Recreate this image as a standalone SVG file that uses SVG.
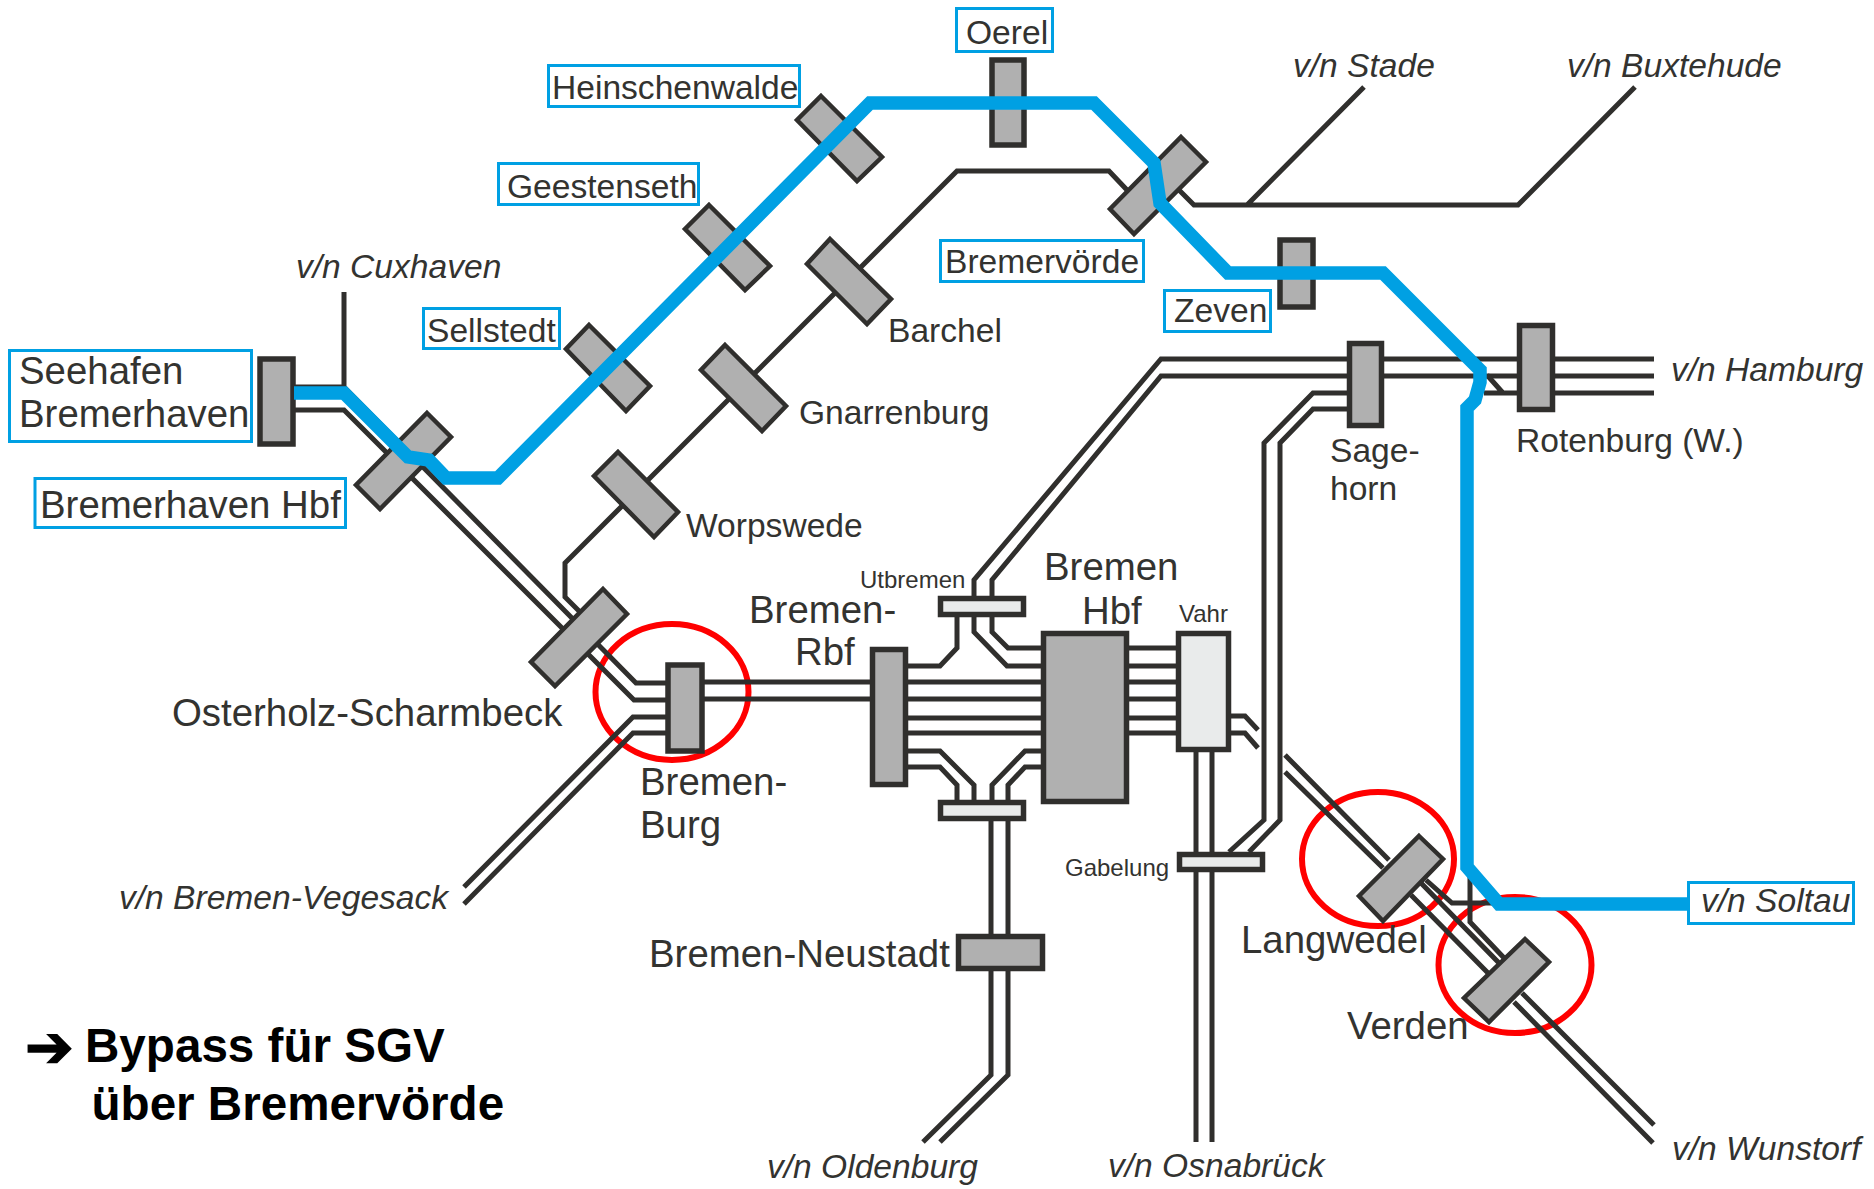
<svg xmlns="http://www.w3.org/2000/svg" width="1874" height="1189" viewBox="0 0 1874 1189">
<style>
text{font-family:"Liberation Sans",Arial,sans-serif;fill:#333330;font-size:33.6px}
.l{font-size:38.4px}
.s{font-size:24px}
.i{font-style:italic}
.b{font-weight:bold;fill:#000;font-size:47.6px}
.t{fill:none;stroke:#302f2d;stroke-width:5;stroke-linejoin:miter}
.st{fill:#b0b0b0;stroke:#302f2d;stroke-width:5.5}
.d{fill:#b0b0b0;stroke:#302f2d;stroke-width:4.5}
.lt{fill:#e9ebeb;stroke:#302f2d;stroke-width:5.5}
.box{fill:#fff;stroke:#00a0e3;stroke-width:3}
.ring{fill:none;stroke:#f00;stroke-width:6}
.route{fill:none;stroke:#00a0e3;stroke-width:13.5;stroke-linejoin:miter}
</style>
<rect width="1874" height="1189" fill="#fff"/>
<g id="highlights">
<ellipse class="ring" cx="672" cy="692" rx="76.5" ry="68"/>
<ellipse class="ring" cx="1378" cy="859" rx="76" ry="67"/>
<ellipse class="ring" cx="1515" cy="965" rx="76.5" ry="68"/>
</g>
<g id="connectors">
<path class="t" d="M344,292V387L636,683H668"/>
<path class="t" d="M295,387H344"/>
<path class="t" d="M295,410H344L634,700H668"/>
<path class="t" d="M464,887L633,717H668"/>
<path class="t" d="M464,904L633,733H668"/>
<path class="t" d="M703,682H870M703,699H870"/>
<path class="t" d="M908,682H1041M908,699H1041M908,718H1041M908,733H1041"/>
<path class="t" d="M908,666H940L957,648V617"/>
<path class="t" d="M974,617V632L1007,666H1041"/>
<path class="t" d="M992,617V632L1008,648H1041"/>
<path class="t" d="M974,596V580L1161,359H1347"/>
<path class="t" d="M992,596V580L1161,376H1347"/>
<path class="t" d="M1384,359H1517M1384,376H1517M1555,359H1654M1555,376H1654M1555,393H1654"/>
<path class="t" d="M1484,393H1517M1487,375L1503,393"/>
<path class="t" d="M908,751H940L974,785V800"/>
<path class="t" d="M908,767H940L957,785V800"/>
<path class="t" d="M1041,751H1025L992,785V800"/>
<path class="t" d="M1041,767H1025L1008,785V800"/>
<path class="t" d="M991,821V1075L923,1142"/>
<path class="t" d="M1008,821V1075L940,1142"/>
<path class="t" d="M1129,648H1176M1129,666H1176M1129,682H1176M1129,699H1176M1129,718H1176M1129,733H1176"/>
<path class="t" d="M1231,716H1245L1258,730M1231,733H1245L1258,748"/>
<path class="t" d="M1196,752V1142M1212,752V1142"/>
<path class="t" d="M1347,393H1313L1264,443V820L1229,852"/>
<path class="t" d="M1347,409H1313L1280,443V820L1249,852"/>
<path class="t" d="M1285,755L1389,860M1285,772L1383,868"/>
<path class="t" d="M1411,895L1488,973M1421,883L1499,963"/>
<path class="t" d="M1426,880L1452,903H1495M1470,873V922L1506,960"/>
<path class="t" d="M1522,993L1654,1125M1514,1002L1653,1143"/>
<path class="t" d="M1127,190L1109,171H957L565,563V597L585,617"/>
<path class="t" d="M1179,190L1194,205H1518L1635,87M1247,205L1364,87"/>
</g>
<g id="seehafen"><rect class="box" x="9.5" y="350.5" width="242" height="91"/><rect class="st" x="260" y="359" width="33" height="85"/><text class="l" x="19" y="384">Seehafen</text><text class="l" x="19" y="427">Bremerhaven</text></g>
<g id="bremerhaven-hbf"><rect class="box" x="35" y="478.5" width="310.5" height="49"/><polygon class="d" points="427,413 451,437 380,509 356,485"/><text class="l" x="40" y="518">Bremerhaven Hbf</text></g>
<g id="sellstedt"><rect class="box" x="423.5" y="308.5" width="136" height="40"/><polygon class="d" points="589,325 650,386 626,411 566,349"/><text x="427" y="341.5">Sellstedt</text></g>
<g id="geestenseth"><rect class="box" x="498.5" y="163.5" width="200" height="41"/><polygon class="d" points="709,205 770,266 745,290 685,229"/><text x="507" y="197.5">Geestenseth</text></g>
<g id="heinschenwalde"><rect class="box" x="548.5" y="65.5" width="251" height="41"/><polygon class="d" points="821,96 882,157 857,181 797,120"/><text x="552" y="98.5">Heinschenwalde</text></g>
<g id="oerel"><rect class="box" x="956.5" y="8.5" width="96" height="43"/><rect class="st" x="992" y="60" width="32" height="85"/><text x="966" y="43.5">Oerel</text></g>
<g id="bremervoerde"><rect class="box" x="940.5" y="240.5" width="203" height="41"/><polygon class="d" points="1181,137 1206,162 1134,234 1110,209"/><text x="945" y="272.5">Bremervörde</text></g>
<g id="zeven"><rect class="box" x="1164.5" y="290.5" width="106" height="41"/><rect class="st" x="1280" y="240" width="33" height="67"/><text x="1174" y="321.500">Zeven</text></g>
<g id="barchel"><polygon class="d" points="830,239 891,299 867,324 807,264"/><text x="888" y="341.5">Barchel</text></g>
<g id="gnarrenburg"><polygon class="d" points="725,345 786,406 762,431 701,370"/><text x="799" y="423.5">Gnarrenburg</text></g>
<g id="worpswede"><polygon class="d" points="618,452 678,512 654,537 594,476"/><text x="686" y="536.5">Worpswede</text></g>
<g id="osterholz-scharmbeck"><polygon class="d" points="603,589 627,614 555,686 531,662"/><text class="l" x="172" y="726">Osterholz-Scharmbeck</text></g>
<g id="bremen-burg"><rect class="st" x="668" y="665" width="34" height="86"/><text class="l" x="640" y="795">Bremen-</text><text class="l" x="640" y="838">Burg</text></g>
<g id="bremen-rbf"><rect class="st" x="872.5" y="649.5" width="33" height="135"/><text class="l" x="749" y="623">Bremen-</text><text class="l" x="795" y="665">Rbf</text></g>
<g id="utbremen"><rect class="lt" x="940.5" y="598.5" width="83" height="16"/><text class="s" x="860" y="588">Utbremen</text></g>
<g id="abzweig-neustadt"><rect class="lt" x="940.5" y="802.5" width="83" height="16"/></g>
<g id="bremen-hbf"><rect class="st" x="1043.5" y="633.5" width="83" height="168"/><text class="l" x="1044" y="580">Bremen</text><text class="l" x="1082" y="624">Hbf</text></g>
<g id="vahr"><rect class="lt" x="1178.5" y="633.5" width="50" height="116"/><text class="s" x="1179" y="622">Vahr</text></g>
<g id="gabelung"><rect class="lt" x="1179.5" y="854.5" width="83" height="15"/><text class="s" x="1065" y="876">Gabelung</text></g>
<g id="bremen-neustadt"><rect class="st" x="958.5" y="936.5" width="84" height="32"/><text class="l" x="649" y="967">Bremen-Neustadt</text></g>
<g id="sagehorn"><rect class="st" x="1349.5" y="343.5" width="32" height="82"/><text x="1330" y="461.5">Sage-</text><text x="1330" y="499.5">horn</text></g>
<g id="rotenburg"><rect class="st" x="1519.5" y="325.5" width="33" height="84"/><text x="1516" y="451.5">Rotenburg (W.)</text></g>
<g id="langwedel"><polygon class="d" points="1419,836 1443,859 1383,921 1359,896"/><text class="l" x="1241" y="953">Langwedel</text></g>
<g id="verden"><polygon class="d" points="1525,939 1549,962 1489,1022 1464,998"/><text class="l" x="1347" y="1039">Verden</text></g>
<g id="connectors-bypass">
<path class="route" d="M294,393H344L408,457L429,460L446,478H498L870,103H1094L1154,163L1160,203L1228,273H1383L1480,370V382L1475,400L1467,408V867L1499,904H1690"/>
</g>
<g id="soltau"><rect class="box" x="1688.5" y="882.5" width="165" height="41"/><text class="i" x="1701" y="911.5">v/n Soltau</text></g>
<g id="destinations">
<text class="i" x="296" y="277.5">v/n Cuxhaven</text>
<text class="i" x="1293" y="77">v/n Stade</text>
<text class="i" x="1567" y="77">v/n Buxtehude</text>
<text class="i" x="1671" y="381">v/n Hamburg</text>
<text class="i" x="1672" y="1160">v/n Wunstorf</text>
<text class="i" x="119" y="909">v/n Bremen-Vegesack</text>
<text class="i" x="767" y="1178">v/n Oldenburg</text>
<text class="i" x="1108" y="1177">v/n Osnabrück</text>
</g>
<g id="caption">
<text class="b" x="25" y="1067" style="font-family:'DejaVu Sans',sans-serif;font-size:58px;stroke:#000;stroke-width:1.5">➔</text>
<text class="b" x="85" y="1062">Bypass für SGV</text>
<text class="b" x="91.5" y="1120">über Bremervörde</text>
</g>
</svg>
